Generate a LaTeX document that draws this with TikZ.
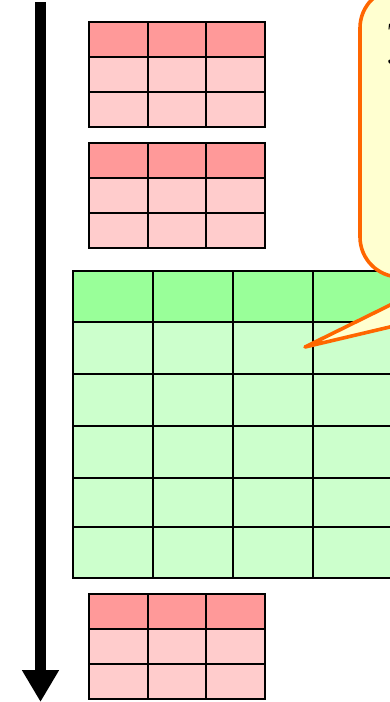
\documentclass[tikz,border=0pt]{standalone}
\usetikzlibrary{arrows.meta}
\definecolor{redhead}{RGB}{255,153,153}
\definecolor{redbody}{RGB}{255,204,204}
\definecolor{greenhead}{RGB}{153,255,153}
\definecolor{greenbody}{RGB}{204,255,204}
\definecolor{notefill}{RGB}{255,255,208}
\definecolor{noteline}{RGB}{255,102,0}
\tikzset{
  gridline/.style={draw=black,line width=1.6pt},
  timeline/.style={line width=11pt,-{Triangle[length=32pt,width=35pt]}},
  notebox/.style={draw=noteline,line width=3.6pt,fill=notefill,line join=round}
}
\newcommand{\redtable}[2]{% x0, y0 (top)
  \fill[redhead] (#1,#2) rectangle ++(176,35);
  \fill[redbody] (#1,#2+35) rectangle ++(176,70);
  \draw[gridline] (#1,#2) rectangle ++(176,105);
  \foreach \dx in {59,117} \draw[gridline] (#1+\dx,#2) -- ++(0,105);
  \foreach \dy in {35,70} \draw[gridline] (#1,#2+\dy) -- ++(176,0);
}
\begin{document}
\begin{tikzpicture}[x=1pt,y=-1pt]
\useasboundingbox (0,0) rectangle (390,702);
\begin{scope}
\clip (0,0) rectangle (390,702);
% time arrow
\coordinate (tstart) at (40.5,2);
\coordinate (tend) at (40.5,702);
\draw[timeline] (tstart) -- (tend);
% red tables
\redtable{89}{22}
\redtable{89}{143}
\redtable{89}{594}
% green table
\fill[greenhead] (73,271) rectangle (400,322);
\fill[greenbody] (73,322) rectangle (400,578);
\draw[gridline] (73,271) rectangle (400,578);
\foreach \x in {153,233,313} \draw[gridline] (\x,271) -- (\x,578);
\foreach \y in {322,374,426,478,527} \draw[gridline] (73,\y) -- (400,\y);
% callout
\coordinate (tip) at (305,347);
\draw[notebox] (447,277) -- (tip) -- (602,277)
  [rounded corners=40pt] -- (700,277) -- (700,-12) -- (360,-12) -- (360,277) [sharp corners] -- cycle;
\node[anchor=north west,inner sep=0pt,font=\bfseries\fontsize{24}{24}\selectfont,align=left] (notetext) at (387.5,24) {T\\J};
\end{scope}
\end{tikzpicture}
\end{document}
